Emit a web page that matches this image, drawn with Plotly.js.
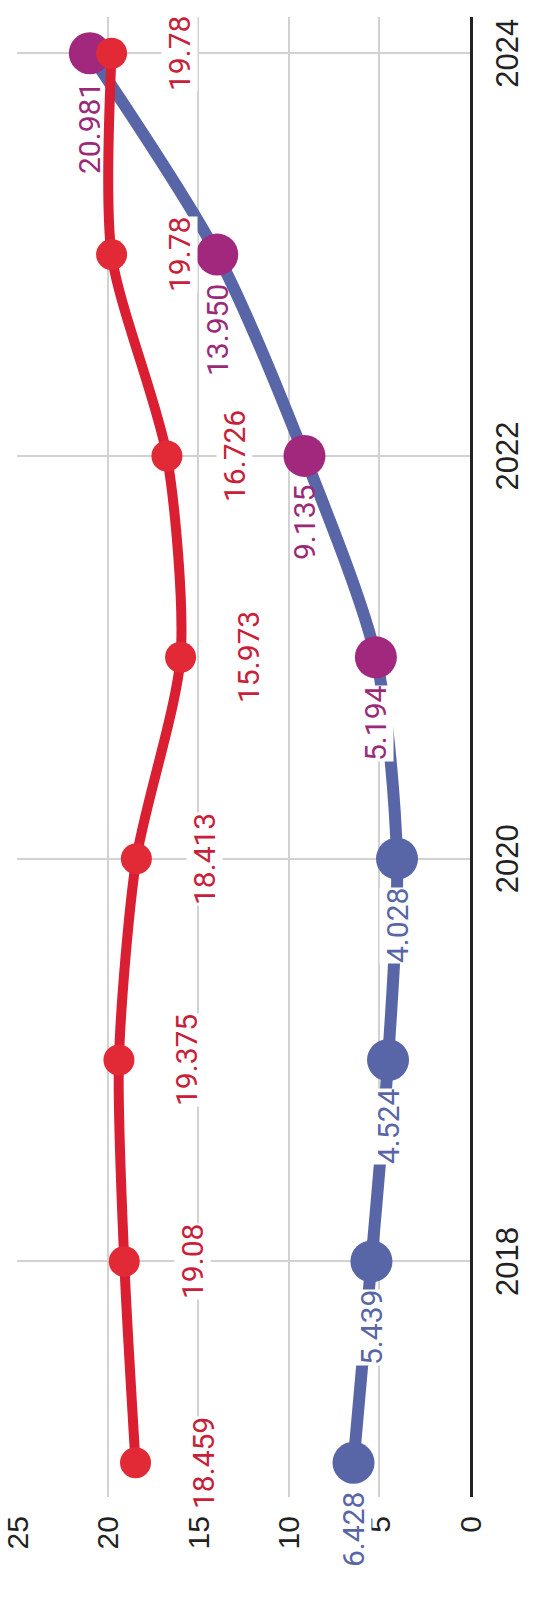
<!DOCTYPE html>
<html>
<head>
<meta charset="utf-8">
<script src="https://cdn.plot.ly/plotly-3.0.1.min.js"></script>
<style>
  html, body { margin: 0; padding: 0; background: #ffffff; }
  #wrap { position: relative; width: 540px; height: 1606px; overflow: hidden; background: #ffffff; }
  #chart { position: absolute; left: 0; top: 0; width: 1606px; height: 540px;
           transform-origin: 0 0; transform: translateY(1606px) rotate(-90deg); }
</style>
</head>
<body>
<div id="wrap"><div id="chart"></div></div>
<script>
// ---- data ----
const years = [2017, 2018, 2019, 2020, 2021, 2022, 2023, 2024];
const redValues = [18.459, 19.08, 19.375, 18.413, 15.973, 16.726, 19.78, 19.78];
const redLabels = ['18.459', '19.08', '19.375', '18.413', '15.973', '16.726', '19.78', '19.78'];
const blueValues = [6.428, 5.439, 4.524, 4.028, 5.194, 9.135, 13.950, 20.981];
const blueLabels = ['6.428', '5.439', '4.524', '4.028', '5.194', '9.135', '13.950', '20.981'];
const projectionStart = 2021;
const yearTicks = [2018, 2020, 2022, 2024];
const valueTicks = [0, 5, 10, 15, 20, 25];

// ---- styles ----
const RED_LINE = '#d91f31';
const RED_MARK = '#e12a36';
const RED_TEXT = '#c9203a';
const BLUE = '#5866a8';
const PURPLE = '#a2287e';
const PURPLE_TEXT = '#9a2a78';

const blueMarkerColors = years.map(y => y >= projectionStart ? PURPLE : BLUE);
const blueTextColors = years.map(y => y >= projectionStart ? PURPLE_TEXT : BLUE);
const blueLabelBg = years.map(y => y <= projectionStart ? '#ffffff' : 'rgba(255,255,255,0)');

const traces = [
  {
    x: years, y: blueValues, type: 'scatter', mode: 'lines+markers',
    line: { color: BLUE, width: 12, shape: 'spline', smoothing: 0.8 },
    marker: { color: blueMarkerColors, size: 42 },
    cliponaxis: false, hoverinfo: 'skip'
  },
  {
    x: years, y: redValues, type: 'scatter', mode: 'lines+markers',
    line: { color: RED_LINE, width: 10, shape: 'spline', smoothing: 0.75 },
    marker: { color: RED_MARK, size: 31 },
    cliponaxis: false, hoverinfo: 'skip'
  }
];

const annotations = [];
years.forEach((yr, i) => {
  annotations.push({
    x: yr, y: redValues[i], xref: 'x', yref: 'y', text: redLabels[i],
    showarrow: false, xanchor: 'center', yanchor: 'middle', yshift: -68,
    bgcolor: '#ffffff', borderpad: 0,
    font: { family: 'Roboto, sans-serif', size: 30, color: RED_TEXT }
  });
  annotations.push({
    x: yr, y: blueValues[i], xref: 'x', yref: 'y', text: blueLabels[i],
    showarrow: false, xanchor: 'right', yanchor: 'middle', xshift: -28,
    bgcolor: blueLabelBg[i], borderpad: 0,
    font: { family: 'Roboto, sans-serif', size: 30, color: blueTextColors[i] }
  });
});

const layout = {
  width: 1606, height: 540,
  margin: { l: 109, r: 17, t: 17, b: 70 },
  paper_bgcolor: '#ffffff', plot_bgcolor: '#ffffff',
  showlegend: false,
  xaxis: {
    range: [2016.83, 2024.18], tickvals: yearTicks, ticktext: yearTicks.map(String),
    showgrid: true, gridcolor: '#d2d2d2', gridwidth: 2,
    showline: true, linecolor: '#222222', linewidth: 3,
    zeroline: false, ticks: '', ticklabelstandoff: 8,
    tickfont: { family: 'Liberation Sans, Arial, sans-serif', size: 31, color: '#222222' }
  },
  yaxis: {
    range: [0, 25], tickvals: valueTicks, ticktext: valueTicks.map(String),
    showgrid: true, gridcolor: '#d2d2d2', gridwidth: 2,
    showline: false, zeroline: false, ticks: '', ticklabelstandoff: 18,
    tickfont: { family: 'Liberation Sans, Arial, sans-serif', size: 30, color: '#222222' }
  },
  annotations: annotations
};

Plotly.newPlot('chart', traces, layout, { staticPlot: true, displayModeBar: false });
</script>
</body>
</html>
